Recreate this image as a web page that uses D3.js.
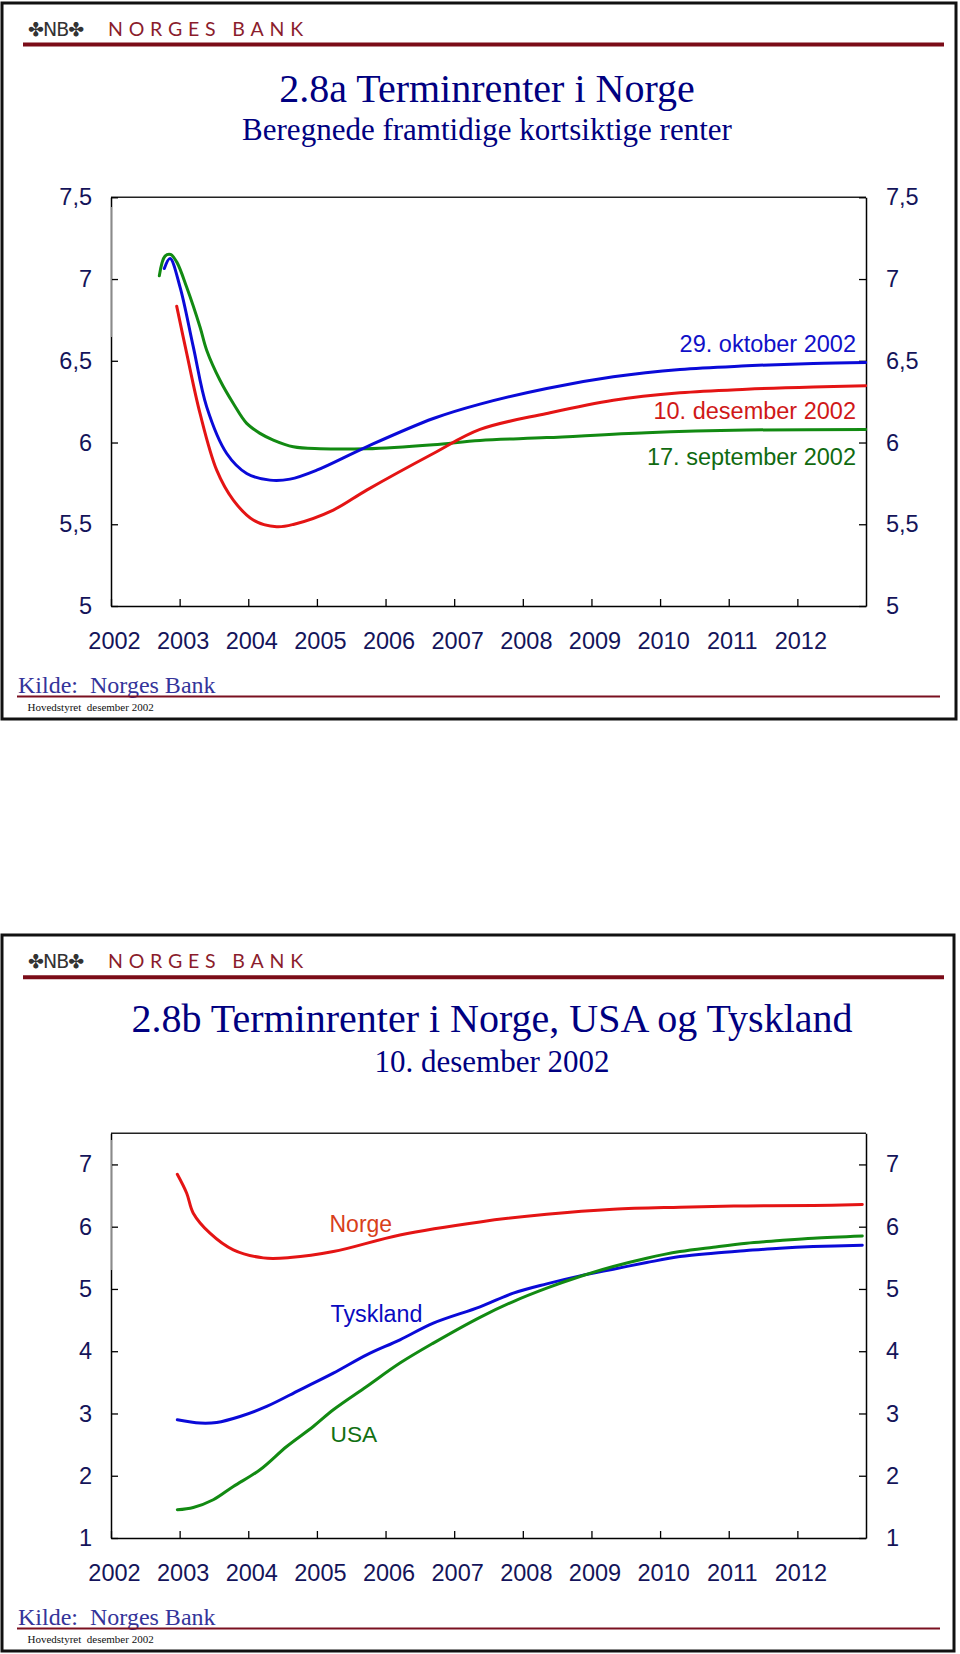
<!DOCTYPE html>
<html>
<head>
<meta charset="utf-8">
<script src="https://cdn.jsdelivr.net/npm/d3@7"></script>
<style>
  html, body { margin: 0; padding: 0; background: #fff; }
  svg { display: block; }
</style>
</head>
<body>
<svg id="chart" width="960" height="1654"></svg>
<script>
// ---------------- DATA ----------------
const yearLabels = [2002, 2003, 2004, 2005, 2006, 2007, 2008, 2009, 2010, 2011, 2012];
const yTicksA = [5, 5.5, 6, 6.5, 7, 7.5];
const yTicksB = [1, 2, 3, 4, 5, 6, 7];

// Chart 2.8a — forward curves (decimal year, percent)
const sepDates = [2002.704, 2002.787, 2002.870, 2002.957, 2003.103, 2003.297, 2003.394, 2003.588, 2003.782, 2003.977, 2004.171, 2004.365, 2004.656, 2005.045, 2005.725, 2006.696, 2007.376, 2008.348, 2009.804, 2011.261, 2012.995];
const sepValues = [7.02, 7.14, 7.15, 7.105, 6.95, 6.707, 6.565, 6.381, 6.239, 6.117, 6.056, 6.015, 5.974, 5.962, 5.962, 5.987, 6.013, 6.03, 6.06, 6.076, 6.08];

const octDates = [2002.777, 2002.860, 2003.005, 2003.199, 2003.394, 2003.686, 2003.977, 2004.316, 2004.608, 2004.997, 2005.725, 2006.696, 2007.376, 2008.348, 2009.318, 2010.290, 2011.261, 2012.232, 2012.995];
const octValues = [7.064, 7.125, 6.952, 6.585, 6.218, 5.933, 5.811, 5.770, 5.776, 5.831, 5.974, 6.147, 6.235, 6.331, 6.402, 6.447, 6.469, 6.484, 6.49];

const decDates = [2002.957, 2003.103, 2003.297, 2003.540, 2003.782, 2004.073, 2004.414, 2004.656, 2005.239, 2005.725, 2006.696, 2007.376, 2008.348, 2009.318, 2010.290, 2011.261, 2012.232, 2012.995];
const decValues = [6.834, 6.545, 6.178, 5.831, 5.648, 5.526, 5.485, 5.499, 5.587, 5.709, 5.933, 6.08, 6.178, 6.259, 6.304, 6.326, 6.34, 6.347];

// Chart 2.8b — Norge, USA, Tyskland (10. desember 2002)
const norgeDates = [2002.966, 2003.103, 2003.199, 2003.442, 2003.782, 2004.219, 2004.608, 2005.239, 2006.210, 2007.376, 2008.348, 2009.318, 2010.290, 2011.261, 2012.232, 2012.946];
const norgeValues = [6.843, 6.538, 6.217, 5.896, 5.628, 5.499, 5.504, 5.60, 5.868, 6.077, 6.2, 6.281, 6.313, 6.334, 6.339, 6.355];

const tysklandDates = [2002.966, 2003.297, 2003.540, 2003.879, 2004.268, 2004.753, 2005.239, 2005.725, 2006.210, 2006.696, 2007.376, 2007.861, 2008.348, 2008.833, 2009.318, 2009.804, 2010.290, 2010.775, 2011.261, 2011.746, 2012.232, 2012.946];
const tysklandValues = [2.899, 2.846, 2.856, 2.952, 3.113, 3.38, 3.648, 3.942, 4.183, 4.451, 4.713, 4.933, 5.082, 5.21, 5.318, 5.424, 5.52, 5.575, 5.617, 5.655, 5.681, 5.703];

const usaDates = [2002.966, 2003.199, 2003.490, 2003.782, 2004.171, 2004.560, 2004.947, 2005.239, 2005.725, 2006.210, 2006.696, 2007.376, 2007.861, 2008.348, 2008.833, 2009.318, 2009.804, 2010.290, 2010.775, 2011.261, 2011.746, 2012.232, 2012.946];
const usaValues = [1.454, 1.491, 1.615, 1.828, 2.096, 2.47, 2.791, 3.059, 3.433, 3.809, 4.13, 4.544, 4.798, 5.013, 5.2, 5.36, 5.494, 5.60, 5.671, 5.735, 5.777, 5.815, 5.852];

// ---------------- DRAWING ----------------
const svg = d3.select("#chart");
const NAVY = "#000080";
const TICK_COL = "#14145a";
const SANS = "Liberation Sans, Arial, sans-serif";
const SERIF = "Liberation Serif, Times New Roman, serif";
const fmt = d => String(d).replace(".", ",");
const zip = (xs, ys) => xs.map((x, i) => ({x, y: ys[i]}));

function drawPanel(cfg) {
  const g = svg.append("g").attr("transform", `translate(0,${cfg.offset})`);

  // frame
  g.append("rect").attr("x", 2).attr("y", 3).attr("width", cfg.frameW).attr("height", 716)
    .attr("fill", "#fff").attr("stroke", "#111").attr("stroke-width", 3);

  // header logo
  g.append("text").attr("x", 28).attr("y", 36)
    .attr("font-family", "DejaVu Sans, sans-serif").attr("font-size", 19)
    .attr("fill", "#333").attr("letter-spacing", -1).text("✤NB✤");
  g.append("text").attr("x", 108).attr("y", 36)
    .attr("font-family", "Lato, Open Sans, sans-serif").attr("font-size", 19.5)
    .attr("fill", "#8b1c2c").attr("letter-spacing", 5.8).text("NORGES BANK");
  g.append("line").attr("x1", 23).attr("x2", 944).attr("y1", cfg.headLineY).attr("y2", cfg.headLineY)
    .attr("stroke", "#7b0c18").attr("stroke-width", 4);

  // titles
  g.append("text").attr("x", cfg.titleX).attr("y", cfg.titleY).attr("text-anchor", "middle")
    .attr("font-family", SERIF).attr("font-size", 40).attr("fill", NAVY).text(cfg.title);
  g.append("text").attr("x", cfg.titleX).attr("y", cfg.subY).attr("text-anchor", "middle")
    .attr("font-family", SERIF).attr("font-size", 31).attr("fill", NAVY).text(cfg.subtitle);

  // scales
  const x = d3.scaleLinear().domain([2002, 2013]).range([111, 866]);
  const y = d3.scaleLinear().domain(cfg.yDomain).range([606, cfg.plotTop]);

  // top border
  g.append("line").attr("x1", 111).attr("x2", 866).attr("y1", cfg.plotTop).attr("y2", cfg.plotTop)
    .attr("stroke", "#222").attr("stroke-width", 1.5);

  // axes
  const styleAxis = (sel) => {
    sel.selectAll("path").attr("stroke", "#000").attr("stroke-width", 1.5);
    sel.selectAll("line").attr("stroke", "#000").attr("stroke-width", 1.3);
    sel.selectAll("text").attr("font-family", SANS).attr("font-size", 23.5).attr("fill", TICK_COL);
  };
  const left = g.append("g").attr("transform", "translate(111,0)")
    .call(d3.axisLeft(y).tickValues(cfg.yTicks).tickSizeInner(-7).tickSizeOuter(0).tickPadding(19).tickFormat(fmt));
  styleAxis(left);
  const right = g.append("g").attr("transform", "translate(866,0)")
    .call(d3.axisRight(y).tickValues(cfg.yTicks).tickSizeInner(-7).tickSizeOuter(0).tickPadding(20).tickFormat(fmt));
  styleAxis(right);
  const bottom = g.append("g").attr("transform", "translate(0,606)")
    .call(d3.axisBottom(x).tickValues(yearLabels).tickSizeInner(-7).tickSizeOuter(0).tickPadding(26).tickFormat(d3.format("d")));
  styleAxis(bottom);
  bottom.selectAll("text").attr("dx", 3);

  // light segment on left axis (as in original rendering)
  g.append("line").attr("x1", 111).attr("x2", 111).attr("y1", cfg.grayTop).attr("y2", cfg.grayBot)
    .attr("stroke", "#b8b8b8").attr("stroke-width", 1.5);

  // series
  const line = d3.line().x(d => x(d.x)).y(d => y(d.y)).curve(d3.curveCatmullRom.alpha(0.5));
  cfg.series.forEach(s => {
    g.append("path").datum(zip(s.dates, s.values)).attr("d", line)
      .attr("fill", "none").attr("stroke", s.color).attr("stroke-width", 3)
      .attr("stroke-linejoin", "round").attr("stroke-linecap", "round");
  });
  cfg.labels.forEach(l => {
    g.append("text").attr("x", l.x).attr("y", l.y).attr("text-anchor", l.anchor)
      .attr("font-family", SANS).attr("font-size", l.size).attr("fill", l.color).text(l.text);
  });

  // footer
  g.append("text").attr("x", 18).attr("y", 693).attr("font-family", SERIF).attr("font-size", 24)
    .attr("fill", "#34349a").style("white-space", "pre").text("Kilde:  Norges Bank");
  g.append("line").attr("x1", 17).attr("x2", 940).attr("y1", 696.5).attr("y2", 696.5)
    .attr("stroke", "#7a1020").attr("stroke-width", 2.2);
  g.append("text").attr("x", 27.5).attr("y", 711).attr("font-family", SERIF).attr("font-size", 11)
    .attr("fill", "#111").style("white-space", "pre").text("Hovedstyret  desember 2002");
}

drawPanel({
  offset: 0, frameW: 954, headLineY: 44.5,
  title: "2.8a Terminrenter i Norge", subtitle: "Beregnede framtidige kortsiktige renter",
  titleX: 487, titleY: 101.7, subY: 140,
  yDomain: [5, 7.5], yTicks: yTicksA, plotTop: 197.3, grayTop: 207, grayBot: 337,
  series: [
    {dates: sepDates, values: sepValues, color: "#128a12"},
    {dates: octDates, values: octValues, color: "#0a0ad8"},
    {dates: decDates, values: decValues, color: "#e41414"}
  ],
  labels: [
    {text: "29. oktober 2002", x: 856, y: 351.7, anchor: "end", color: "#1010c8", size: 23.5},
    {text: "10. desember 2002", x: 856, y: 419.3, anchor: "end", color: "#d01818", size: 23.5},
    {text: "17. september 2002", x: 856, y: 465, anchor: "end", color: "#106a10", size: 23.5}
  ]
});

drawPanel({
  offset: 932, frameW: 952, headLineY: 45.3,
  title: "2.8b Terminrenter i Norge, USA og Tyskland", subtitle: "10. desember 2002",
  titleX: 492, titleY: 99.7, subY: 139.7,
  yDomain: [1, 7.5], yTicks: yTicksB, plotTop: 201.3, grayTop: 208, grayBot: 338,
  series: [
    {dates: norgeDates, values: norgeValues, color: "#e41414"},
    {dates: tysklandDates, values: tysklandValues, color: "#0a0ad8"},
    {dates: usaDates, values: usaValues, color: "#128a12"}
  ],
  labels: [
    {text: "Norge", x: 329.5, y: 299.7, anchor: "start", color: "#d8401a", size: 23},
    {text: "Tyskland", x: 330.5, y: 389.7, anchor: "start", color: "#0a0ac0", size: 23.3},
    {text: "USA", x: 330.5, y: 509.7, anchor: "start", color: "#127012", size: 22.7}
  ]
});
</script>
</body>
</html>
